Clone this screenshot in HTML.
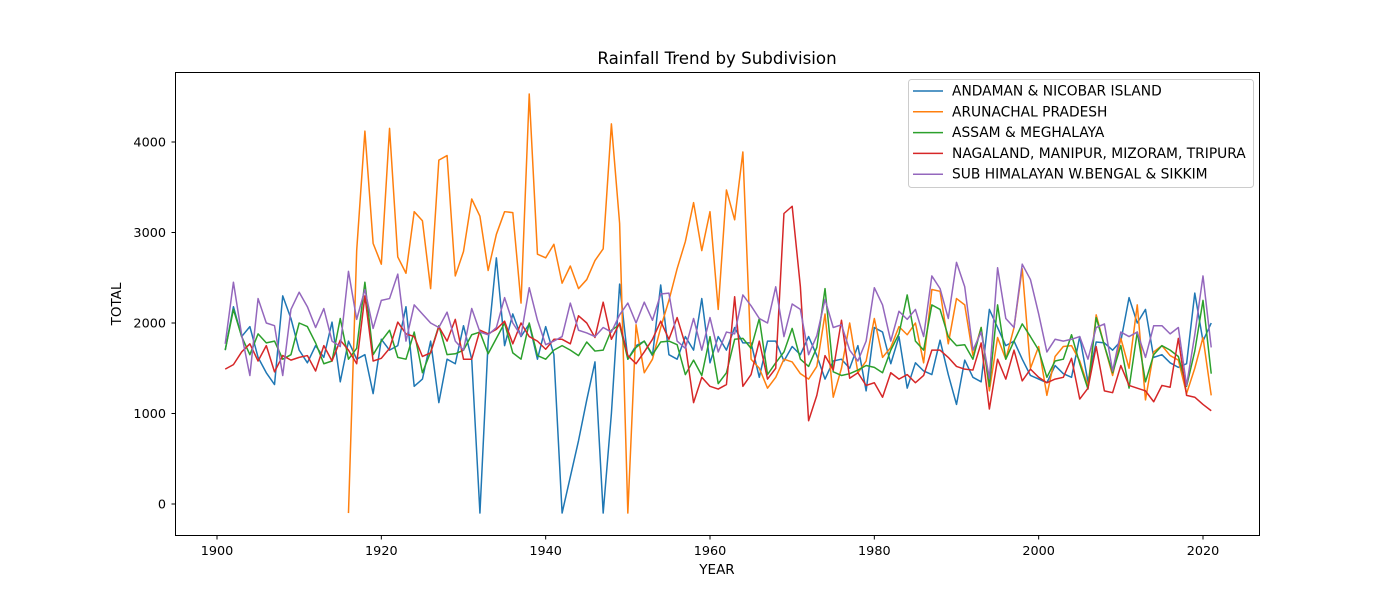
<!DOCTYPE html>
<html><head><meta charset="utf-8"><style>
body{margin:0;background:#fff}
svg{font-family:"DejaVu Sans","Liberation Sans",sans-serif}
</style></head><body>
<svg id="chart" width="1400" height="600" xmlns="http://www.w3.org/2000/svg">
<rect width="1400" height="600" fill="#fff"/>
<text x="717" y="64" text-anchor="middle" font-size="16.67">Rainfall Trend by Subdivision</text>
<g id="plot"></g>
<g id="axes"></g>
<rect x="175.5" y="72.5" width="1084" height="463" fill="none" stroke="#000" stroke-width="1"/>
<text x="717" y="574" text-anchor="middle" font-size="13.5">YEAR</text>
<text transform="translate(121,304) rotate(-90)" text-anchor="middle" font-size="13.5">TOTAL</text>
<g id="legend"></g>
</svg>
<script>
const andaman=[1700,2180,1850,1960,1620,1450,1320,2300,2050,1700,
1560,1750,1620,2010,1350,1800,1600,1650,1220,1820,
1700,1750,2180,1300,1380,1800,1120,1600,1550,1970,
1600,-100,1800,2720,1750,2100,1850,1990,1600,1960,
1650,-100,300,700,1150,1570,-100,1000,2430,1600,
1750,1800,1640,2420,1650,1600,1850,1700,2270,1560,
1850,1700,1950,1780,1780,1400,1800,1800,1580,1740,
1650,1850,1640,1380,1580,1600,1500,1750,1250,1950,
1900,1550,1850,1280,1560,1470,1430,1810,1430,1100,
1590,1400,1350,2150,1950,1750,1800,1600,1420,1380,
1340,1530,1440,1400,1850,1350,1790,1780,1700,1800,
2280,2000,2150,1620,1650,1560,1510,1550,2330,1800,2000];
const arunachal=[-100,2800,4120,2880,2650,
4150,2730,2550,3230,3130,2380,3800,3850,2520,2790,
3370,3180,2580,2980,3230,3220,2220,4530,2760,2720,
2870,2440,2630,2380,2480,2690,2820,4200,3100,-100,
1980,1450,1600,1950,2250,2600,2900,3330,2800,3230,
2150,3470,3140,3890,1600,1500,1280,1400,1600,1570,
1440,1380,1520,2100,1180,1500,2000,1450,1580,2050,
1620,1730,1960,1870,2000,1560,2370,2350,1770,2270,
2200,1640,1950,1250,1840,1600,1950,2600,1500,1740,
1200,1630,1740,1750,1580,1300,2090,1750,1420,1830,
1500,2200,1150,1680,1750,1640,1590,1220,1500,1840,1200];
const assam=[1700,2150,1850,1650,1880,1780,1800,1600,1650,2000,
1960,1780,1550,1580,2050,1600,1720,2450,1650,1800,
1920,1620,1600,1900,1450,1680,1970,1650,1660,1700,
1870,1900,1660,1830,2000,1670,1600,2000,1640,1600,
1700,1750,1700,1640,1790,1690,1700,1920,1980,1600,
1730,1800,1650,1790,1800,1760,1430,1590,1420,1850,
1330,1450,1820,1830,1720,2050,1430,1560,1680,1940,
1600,1520,1730,2380,1460,1420,1440,1480,1530,1510,
1450,1700,1880,2310,1800,1700,2200,2150,1850,1750,
1760,1600,1950,1300,2200,1600,1800,1990,1850,1700,
1400,1580,1600,1870,1550,1270,2060,1750,1450,1750,
1280,1900,1350,1650,1750,1700,1630,1300,1690,2250,1440];
const nagaland=[1490,1540,1680,1770,1580,1750,1460,1640,1590,1620,
1640,1470,1750,1580,1810,1700,1550,2300,1580,1610,
1720,2010,1880,1850,1630,1670,1960,1800,2040,1600,
1600,1920,1880,1930,2020,1770,2000,1850,1800,1710,
1820,1820,1770,2080,2000,1840,2230,1820,2000,1640,
1550,1680,1820,2020,1820,2060,1760,1120,1400,1300,
1270,1320,2290,1300,1430,1800,1380,1500,3210,3290,
2400,920,1200,1640,1480,2030,1390,1450,1310,1340,
1180,1450,1380,1430,1340,1420,1700,1700,1620,1520,
1490,1480,1780,1050,1600,1380,1700,1360,1490,1400,
1340,1380,1400,1610,1160,1280,1740,1250,1230,1530,
1310,1280,1250,1130,1310,1290,1830,1200,1180,1100,1030];
const subhim=[1770,2450,1870,1420,2270,2000,1970,1420,2150,2340,
2180,1950,2160,1800,1740,2570,2040,2370,1940,2250,
2270,2540,1800,2200,2100,2000,1950,2120,1800,1700,
2160,1900,1870,1950,2280,2000,1860,2390,2030,1760,
1800,1850,2220,1920,1890,1850,1950,1900,2090,2220,
2000,2230,2030,2320,2330,1800,1720,2050,1700,2060,
1680,1900,1880,2310,2190,2050,2000,2400,1850,2210,
2150,1650,1860,2260,1950,1980,1700,1580,1800,2390,
2200,1800,2130,2040,2150,1850,2520,2380,2050,2670,
2400,1700,1900,1390,2610,2050,1950,2650,2480,2100,
1680,1820,1800,1820,1850,1600,1950,1990,1470,1900,
1850,1900,1620,1970,1970,1880,1950,1310,1870,2520,1730];
const seriesNames=["ANDAMAN & NICOBAR ISLAND","ARUNACHAL PRADESH","ASSAM & MEGHALAYA","NAGALAND, MANIPUR, MIZORAM, TRIPURA","SUB HIMALAYAN W.BENGAL & SIKKIM"];
const startYears=[1901,1916,1901,1901,1901];
const xTicks=[1900,1920,1940,1960,1980,2000,2020];
const yTicks=[0,1000,2000,3000,4000];

const NS="http://www.w3.org/2000/svg";
const xs=y=>217+(y-1900)*986/120;
const ys=v=>504-v*0.0905;
const colors=["#1f77b4","#ff7f0e","#2ca02c","#d62728","#9467bd"];
const keys=["andaman","arunachal","assam","nagaland","subhim"];
const data=[andaman,arunachal,assam,nagaland,subhim];
const plot=document.getElementById('plot');
data.forEach((arr,k)=>{
  const p=document.createElementNS(NS,'path');
  let d='';
  arr.forEach((v,i)=>{d+=(i?'L':'M')+xs(startYears[k]+i).toFixed(2)+','+ys(v).toFixed(2);});
  p.setAttribute('d',d);p.setAttribute('fill','none');p.setAttribute('stroke',colors[k]);
  p.setAttribute('stroke-width','1.5');p.setAttribute('stroke-linejoin','round');
  
  
  plot.appendChild(p);
});
const axes=document.getElementById('axes');
xTicks.forEach(t=>{
  const x=xs(t);
  const l=document.createElementNS(NS,'line');
  l.setAttribute('x1',x);l.setAttribute('x2',x);l.setAttribute('y1',535.5);l.setAttribute('y2',539.5);l.setAttribute('stroke','#000');
  
  
  axes.appendChild(l);
  const tx=document.createElementNS(NS,'text');
  tx.setAttribute('x',x);tx.setAttribute('y',555);tx.setAttribute('text-anchor','middle');tx.setAttribute('font-size','12.8');
  tx.textContent=t;
  
  
  axes.appendChild(tx);
});
yTicks.forEach(t=>{
  const y=ys(t);
  const l=document.createElementNS(NS,'line');
  l.setAttribute('x1',171.5);l.setAttribute('x2',175.5);l.setAttribute('y1',y);l.setAttribute('y2',y);l.setAttribute('stroke','#000');
  
  
  axes.appendChild(l);
  const tx=document.createElementNS(NS,'text');
  tx.setAttribute('x',166);tx.setAttribute('y',y+4.5);tx.setAttribute('text-anchor','end');tx.setAttribute('font-size','12.8');
  tx.textContent=t;
  
  
  axes.appendChild(tx);
});
const lg=document.getElementById('legend');
const box=document.createElementNS(NS,'rect');
box.setAttribute('x',908.5);box.setAttribute('y',79.5);box.setAttribute('width',345);box.setAttribute('height',108);box.setAttribute('rx',3);
box.setAttribute('fill','#fff');box.setAttribute('fill-opacity','0.8');box.setAttribute('stroke','#ccc');


lg.appendChild(box);
seriesNames.forEach((n,k)=>{
  const y=91+k*20.8;
  const l=document.createElementNS(NS,'line');
  l.setAttribute('x1',913);l.setAttribute('x2',943);l.setAttribute('y1',y);l.setAttribute('y2',y);
  l.setAttribute('stroke',colors[k]);l.setAttribute('stroke-width','1.5');
  
  
  lg.appendChild(l);
  const tx=document.createElementNS(NS,'text');
  tx.setAttribute('x',952);tx.setAttribute('y',y+4.5);tx.setAttribute('font-size','13.8');
  tx.textContent=n;
  
  
  lg.appendChild(tx);
});
</script>
</body></html>
